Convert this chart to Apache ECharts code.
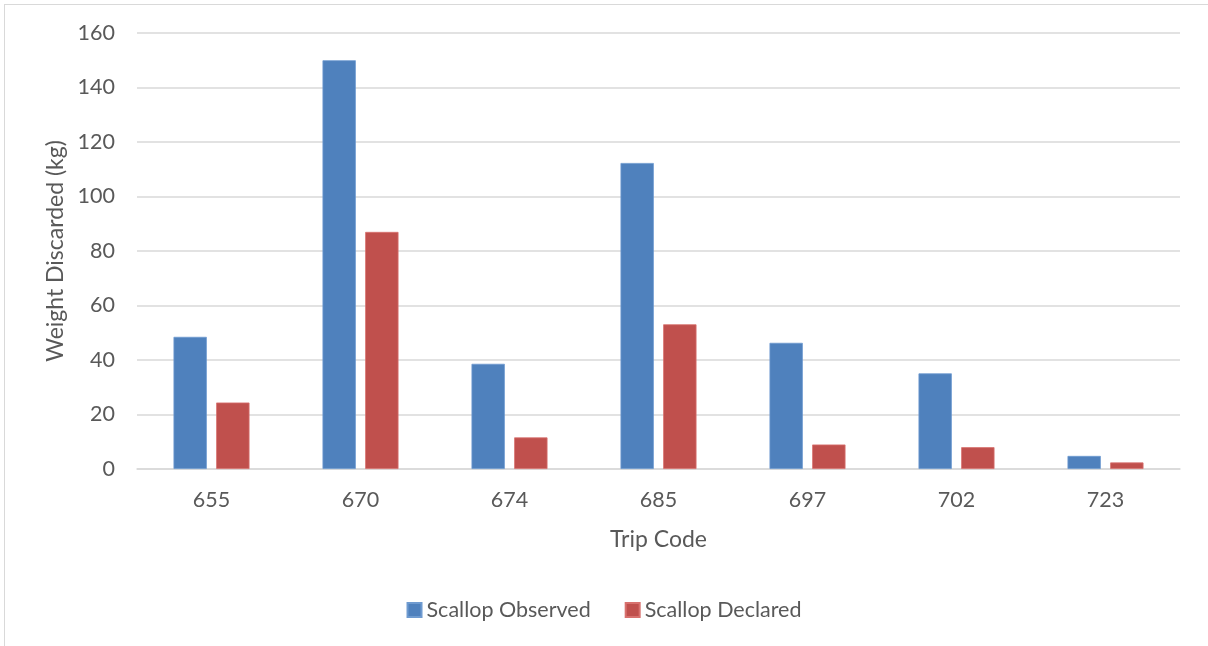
<!DOCTYPE html>
<html>
<head>
<meta charset="utf-8">
<script src="https://cdn.jsdelivr.net/npm/echarts@6/dist/echarts.min.js"></script>
<style>
  html, body { margin: 0; padding: 0; background: #fff; }
  #frame { position: absolute; left: 4px; top: 4px; width: 1210px; height: 650px;
           border-left: 1px solid #d9d9d9; border-top: 1px solid #d9d9d9; }
  #chart { position: absolute; left: 0; top: 0; width: 1208px; height: 646px; }
</style>
</head>
<body>
<div id="frame"></div>
<div id="chart"></div>
<script>
// Trip codes and discarded scallop weights (kg)
const tripCodes = ['655', '670', '674', '685', '697', '702', '723'];
const scallopObserved = [48.5, 150, 38.6, 112.3, 46.3, 35.1, 4.8];
const scallopDeclared = [24.4, 87.0, 11.6, 53.1, 9.0, 8.0, 2.4];
const yTicks = { min: 0, max: 160, interval: 20 };

const textColor = '#595959';
const gridColor = '#d9d9d9';
const fontFamily = 'Lato, "Open Sans", sans-serif';

const chart = echarts.init(document.getElementById('chart'), null, { renderer: 'canvas' });
chart.setOption({
  animation: false,
  backgroundColor: 'transparent',
  textStyle: { fontFamily: fontFamily, color: textColor },
  grid: { left: 137, right: 28, top: 33, bottom: 177 },
  legend: {
    top: 594,
    left: 'center',
    itemWidth: 14,
    itemHeight: 14,
    itemGap: 34,
    icon: 'rect',
    textStyle: { fontSize: 21.5, color: textColor, fontFamily: fontFamily },
    data: ['Scallop Observed', 'Scallop Declared']
  },
  xAxis: {
    type: 'category',
    data: tripCodes,
    name: 'Trip Code',
    nameLocation: 'middle',
    nameGap: 59,
    nameTextStyle: { fontSize: 23, color: textColor, fontFamily: fontFamily },
    axisLine: { show: true, lineStyle: { color: gridColor, width: 1.5 } },
    axisTick: { show: false },
    axisLabel: { fontSize: 21.5, color: textColor, margin: 20, fontFamily: fontFamily }
  },
  yAxis: {
    type: 'value',
    min: yTicks.min,
    max: yTicks.max,
    interval: yTicks.interval,
    name: 'Weight Discarded (kg)',
    nameLocation: 'middle',
    nameGap: 69,
    nameTextStyle: { fontSize: 23, color: textColor, fontFamily: fontFamily },
    axisLine: { show: false },
    axisTick: { show: false },
    axisLabel: { fontSize: 21.5, color: textColor, margin: 22, fontFamily: fontFamily },
    splitLine: { lineStyle: { color: gridColor, width: 1.5 } }
  },
  series: [
    {
      name: 'Scallop Observed',
      type: 'bar',
      data: scallopObserved,
      barGap: '28%',
      barCategoryGap: '49%',
      itemStyle: { color: '#4F81BD', borderColor: '#6f9bd0', borderWidth: 0.8 }
    },
    {
      name: 'Scallop Declared',
      type: 'bar',
      data: scallopDeclared,
      itemStyle: { color: '#C0504D', borderColor: '#d8716e', borderWidth: 0.8 }
    }
  ]
});
</script>
</body>
</html>
